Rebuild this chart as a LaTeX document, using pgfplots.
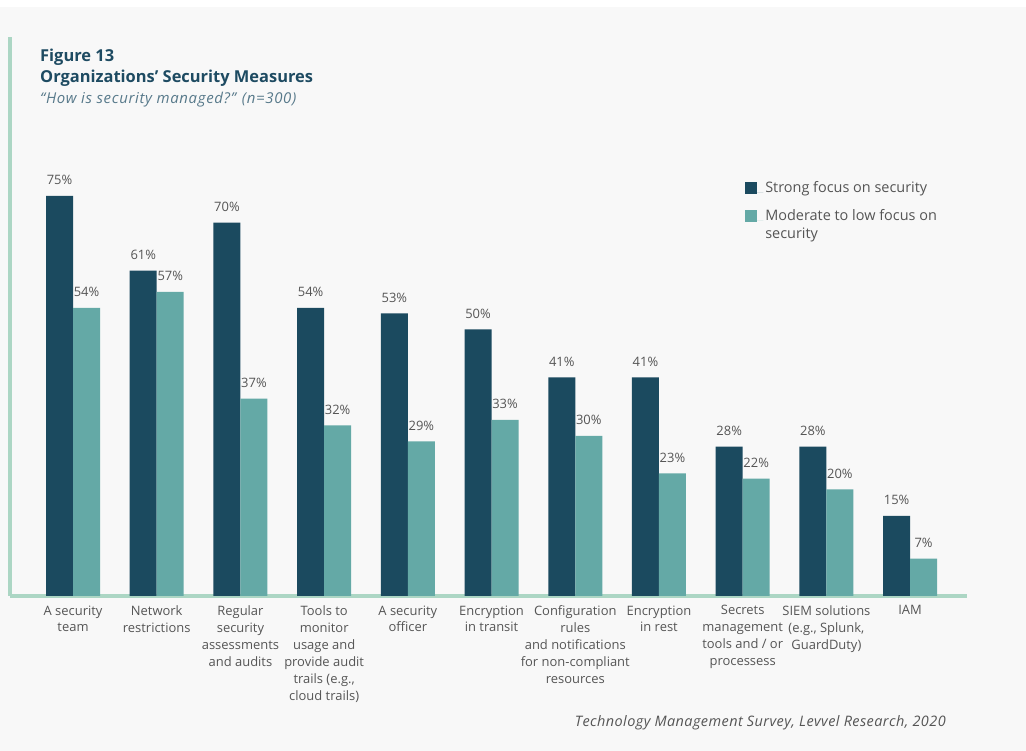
\documentclass[border=0pt]{standalone}
\usepackage{fontspec}
\setmainfont{Open Sans}
\usepackage{pgfplots}
\pgfplotsset{compat=1.18}
\definecolor{bg}{HTML}{F8F8F8}
\definecolor{darkc}{HTML}{1B4A5F}
\definecolor{lightc}{HTML}{64A9A6}
\definecolor{axisc}{HTML}{ACD6C4}
\definecolor{txt}{HTML}{555555}
\definecolor{ttl}{HTML}{1E4B62}
\definecolor{sub}{HTML}{57798A}
\begin{document}
\begin{tikzpicture}[x=1bp,y=1bp]
\fill[bg] (0,0) rectangle (1026,744);
\fill[white] (0,744) rectangle (1026,751);
\node[anchor=base west, inner sep=0, font=\bfseries\fontsize{16.5}{20}\selectfont, text=ttl] at (40,751-62) {Figure 13};
\node[anchor=base west, inner sep=0, font=\bfseries\fontsize{16.5}{20}\selectfont, text=ttl] at (40,751-83) {Organizations’ Security Measures};
\node[anchor=base west, inner sep=0, font=\itshape\fontsize{15}{18}\selectfont\addfontfeatures{LetterSpace=4.5}, text=sub] at (40,751-104) {“How is security managed?” (n=300)};
\node[anchor=base east, inner sep=0, font=\itshape\fontsize{14.5}{17}\selectfont\addfontfeatures{LetterSpace=3}, text=txt] at (946,751-727) {Technology Management Survey, Levvel Research, 2020};
\begin{axis}[
  at={(10bp,155bp)}, anchor=south west,
  scale only axis, width=957bp, height=559bp,
  xmin=-0.753, xmax=10.68, ymin=0, ymax=104.8,
  ybar=0pt, bar width=27bp,
  axis x line*=bottom, axis y line*=left,
  axis line style={draw=axisc, line width=3.5bp, -},
  ytick=\empty,
  xtick=data, major tick length=0,
  /pgf/number format/assume math mode=true,
  xticklabels={{A security\\team},{Network\\restrictions},{Regular\\security\\assessments\\and audits},{Tools to\\monitor\\usage and\\provide audit\\trails (e.g.,\\cloud trails)},{A security\\officer},{Encryption\\in transit},{Configuration\\rules\\and notifications\\for non-compliant\\resources},{Encryption\\in rest},{Secrets\\management\\tools and / or\\processess},{SIEM solutions\\(e.g., Splunk,\\GuardDuty)},{IAM}},
  xticklabel style={align=center, font=\fontsize{13}{17}\selectfont, text=txt, yshift=-6bp},
  nodes near coords={\pgfmathprintnumber{\pgfplotspointmeta}\%},
  nodes near coords style={anchor=base, yshift=11bp, font=\fontsize{13}{15}\selectfont, text=txt},
  legend style={at={(axis description cs:0.765,0.749)}, anchor=north west, draw=none, fill=none,
    font=\fontsize{14.5}{18}\selectfont, text=txt, cells={anchor=base west}, row sep=10bp},
  legend image code/.code={\fill[#1] (0bp,-1bp) rectangle (11.5bp,10.5bp); \path (0bp,0bp) -- (18bp,0bp);},
]
\addplot[fill=darkc, draw=none] coordinates {(0,75) (1,61) (2,70) (3,54) (4,53) (5,50) (6,41) (7,41) (8,28) (9,28) (10,15)};
\addplot[fill=lightc, draw=none] coordinates {(0,54) (1,57) (2,37) (3,32) (4,29) (5,33) (6,30) (7,23) (8,22) (9,20) (10,7)};
\legend{Strong focus on security, {\begin{tabular}[t]{@{}l@{}}Moderate to low focus on\\security\end{tabular}}}
\end{axis}
\pgfresetboundingbox
\path[use as bounding box] (0,0) rectangle (1026,751);
\end{tikzpicture}
\end{document}
